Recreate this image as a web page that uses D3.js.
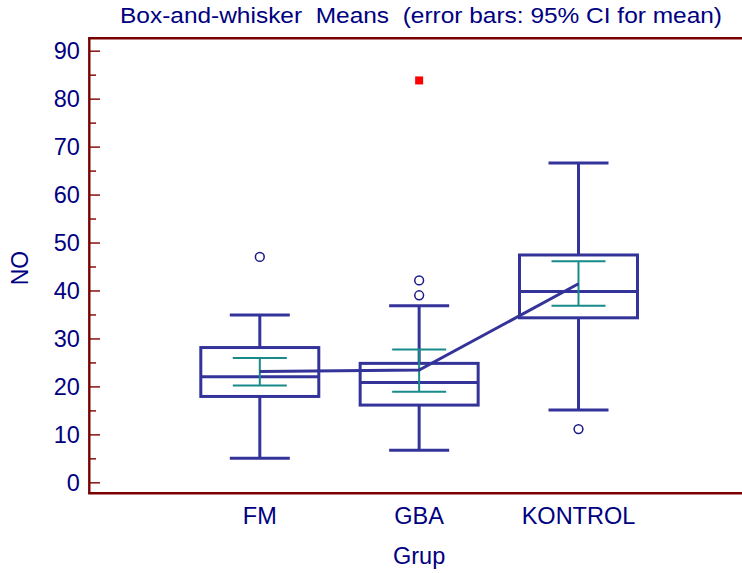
<!DOCTYPE html>
<html>
<head>
<meta charset="utf-8">
<script src="https://cdn.jsdelivr.net/npm/d3@7"></script>
<style>
  html, body { margin: 0; padding: 0; background: #ffffff; }
  svg { display: block; }
  text { font-family: "Liberation Sans", Arial, sans-serif; fill: #000080; }
</style>
</head>
<body>
<svg id="chart" width="742" height="573"></svg>
<script>
// Groups and their box-and-whisker summaries of NO
const categories = ["FM", "GBA", "KONTROL"];
const whiskerLow = [5.0, 6.7, 15.1];
const q1 = [17.9, 16.1, 34.3];
const median = [22.0, 20.8, 39.8];
const q3 = [28.1, 24.8, 47.4];
const whiskerHigh = [34.9, 36.8, 66.6];

// Group means with 95% confidence interval
const means = [23.1, 23.4, 41.4];
const ciLow = [20.2, 18.9, 36.8];
const ciHigh = [25.9, 27.7, 46.1];

// Outside values (circles) and far-out values (squares)
const outsideGroup = ["FM", "GBA", "GBA", "KONTROL"];
const outsideValue = [47.0, 39.0, 42.1, 11.1];
const farOutGroup = ["GBA"];
const farOutValue = [83.8];

// Axis ticks
const majorTicks = [0, 10, 20, 30, 40, 50, 60, 70, 80, 90];
const minorTicks = [5, 15, 25, 35, 45, 55, 65, 75, 85];

const title = "Box-and-whisker  Means  (error bars: 95% CI for mean)";
const yTitle = "NO";
const xTitle = "Grup";

const boxColor = "#333399";
const ciColor = "#178a8a";
const axisColor = "#7a0000";
const tickColor = "#8e2020";

const svg = d3.select("#chart");

const plot = { left: 89.3, right: 749, top: 38.3, bottom: 493.3 };

const y = d3.scaleLinear().domain([0, 90]).range([482.3, 50.7]);
const x = d3.scalePoint().domain(categories).range([plot.left, plot.right]).padding(1.07);

const boxW = 118, capW = 60, ciCapW = 54;

const rows = categories.map((c, i) => ({
  c, lo: whiskerLow[i], q1: q1[i], med: median[i], q3: q3[i], hi: whiskerHigh[i],
  mean: means[i], ciLo: ciLow[i], ciHi: ciHigh[i]
}));

// Title (keeps its double spaces)
svg.append("text")
  .attr("x", 120).attr("y", 22.7)
  .attr("font-size", 21.5)
  .attr("textLength", 602)
  .attr("lengthAdjust", "spacingAndGlyphs")
  .attr("xml:space", "preserve")
  .style("white-space", "pre")
  .text(title);

// Y axis: major ticks with labels, minor ticks without
const yAxisMajor = d3.axisLeft(y).tickValues(majorTicks).tickSize(-10.7).tickPadding(9.5);
const yAxisMinor = d3.axisLeft(y).tickValues(minorTicks).tickSize(-6.7).tickFormat("");

const gMajor = svg.append("g").attr("transform", `translate(${plot.left},0)`).call(yAxisMajor);
const gMinor = svg.append("g").attr("transform", `translate(${plot.left},0)`).call(yAxisMinor);
[gMajor, gMinor].forEach(g => {
  g.select(".domain").remove();
  g.selectAll(".tick line").attr("stroke", tickColor).attr("stroke-width", 1.6);
});
gMajor.selectAll(".tick text")
  .attr("font-size", 23.5)
  .attr("font-family", "'Liberation Sans', Arial, sans-serif")
  .attr("fill", "#000080")
  .attr("dy", "0.34em");

// Frame: left axis line, top and bottom rules
const frame = svg.append("g").attr("stroke", axisColor).attr("stroke-width", 2.4).attr("fill", "none");
frame.append("line").attr("x1", plot.left).attr("x2", plot.left).attr("y1", plot.top).attr("y2", plot.bottom);
frame.append("line").attr("x1", plot.left - 1.2).attr("x2", 742).attr("y1", plot.top).attr("y2", plot.top);
frame.append("line").attr("x1", plot.left - 1.2).attr("x2", 742).attr("y1", plot.bottom).attr("y2", plot.bottom);

// X category labels
svg.append("g").selectAll("text").data(categories).join("text")
  .attr("x", d => x(d)).attr("y", 524.3)
  .attr("text-anchor", "middle")
  .attr("font-size", 23.5)
  .text(d => d);

// Axis titles
svg.append("text")
  .attr("x", x("GBA")).attr("y", 564.3)
  .attr("text-anchor", "middle")
  .attr("font-size", 23.5)
  .text(xTitle);

svg.append("text")
  .attr("transform", `translate(28.3,268) rotate(-90)`)
  .attr("text-anchor", "middle")
  .attr("font-size", 23)
  .text(yTitle);

// Box-and-whisker marks
const boxes = svg.append("g").attr("stroke", boxColor).attr("stroke-width", 3).attr("fill", "none");
const bg = boxes.selectAll("g").data(rows).join("g");

// whiskers
bg.append("line").attr("x1", d => x(d.c)).attr("x2", d => x(d.c))
  .attr("y1", d => y(d.hi)).attr("y2", d => y(d.q3));
bg.append("line").attr("x1", d => x(d.c)).attr("x2", d => x(d.c))
  .attr("y1", d => y(d.q1)).attr("y2", d => y(d.lo));
// whisker caps
bg.append("line").attr("x1", d => x(d.c) - capW / 2).attr("x2", d => x(d.c) + capW / 2)
  .attr("y1", d => y(d.hi)).attr("y2", d => y(d.hi));
bg.append("line").attr("x1", d => x(d.c) - capW / 2).attr("x2", d => x(d.c) + capW / 2)
  .attr("y1", d => y(d.lo)).attr("y2", d => y(d.lo));
// box
bg.append("rect")
  .attr("x", d => x(d.c) - boxW / 2).attr("width", boxW)
  .attr("y", d => y(d.q3)).attr("height", d => y(d.q1) - y(d.q3));
// median
bg.append("line").attr("x1", d => x(d.c) - boxW / 2).attr("x2", d => x(d.c) + boxW / 2)
  .attr("y1", d => y(d.med)).attr("y2", d => y(d.med));

// 95% CI error bars for the mean
const ci = svg.append("g").attr("stroke", ciColor).attr("stroke-width", 2).attr("fill", "none");
const cg = ci.selectAll("g").data(rows).join("g");
cg.append("line").attr("x1", d => x(d.c)).attr("x2", d => x(d.c))
  .attr("y1", d => y(d.ciHi)).attr("y2", d => y(d.ciLo));
cg.append("line").attr("x1", d => x(d.c) - ciCapW / 2).attr("x2", d => x(d.c) + ciCapW / 2)
  .attr("y1", d => y(d.ciHi)).attr("y2", d => y(d.ciHi));
cg.append("line").attr("x1", d => x(d.c) - ciCapW / 2).attr("x2", d => x(d.c) + ciCapW / 2)
  .attr("y1", d => y(d.ciLo)).attr("y2", d => y(d.ciLo));

// Line connecting the group means
svg.append("path")
  .datum(rows)
  .attr("fill", "none")
  .attr("stroke", boxColor)
  .attr("stroke-width", 3)
  .attr("d", d3.line().x(d => x(d.c)).y(d => y(d.mean)));

// Outside values
svg.append("g").selectAll("circle").data(outsideValue).join("circle")
  .attr("cx", (d, i) => x(outsideGroup[i]))
  .attr("cy", d => y(d))
  .attr("r", 4.4)
  .attr("fill", "#ffffff")
  .attr("stroke", "#1a1a8c")
  .attr("stroke-width", 1.5);

// Far-out values
const sq = 8;
svg.append("g").selectAll("rect").data(farOutValue).join("rect")
  .attr("x", (d, i) => x(farOutGroup[i]) - sq / 2)
  .attr("y", d => y(d) - sq / 2)
  .attr("width", sq).attr("height", sq)
  .attr("fill", "#ff0000");
</script>
</body>
</html>
